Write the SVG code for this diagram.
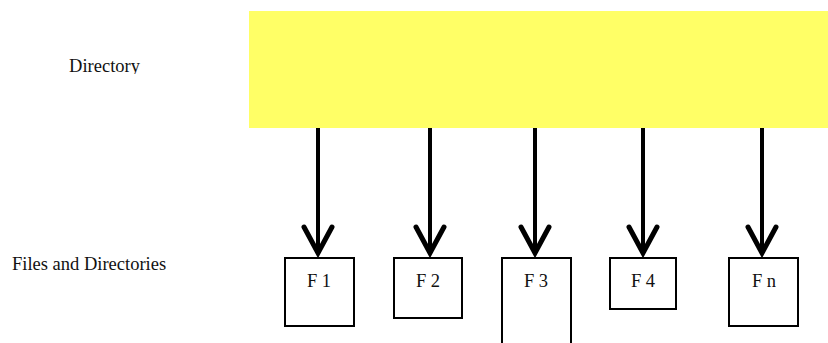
<svg xmlns="http://www.w3.org/2000/svg" width="828" height="343" viewBox="0 0 828 343">
<style>
.lbl{font-family:"Liberation Serif","Times New Roman",serif;font-size:18.5px;fill:#111;}
.box{fill:#fff;stroke:#000;stroke-width:2;}
.conn{stroke:#000;stroke-width:4;fill:none;}
</style>
<defs>
<marker id="ah" markerUnits="userSpaceOnUse" markerWidth="40" markerHeight="40" refX="0" refY="0" orient="auto" overflow="visible" viewBox="-30 -20 40 40">
<path d="M-27,-14 L-1,0 L-27,14" fill="none" stroke="#000" stroke-width="5" stroke-linejoin="miter" stroke-linecap="round"/>
</marker>
<clipPath id="dirclip"><rect x="0" y="40" width="248" height="34"/></clipPath>
</defs>
<g id="directory">
<rect x="249" y="11" width="579" height="117" fill="#ffff66"/>
</g>
<g id="label-directory"><text class="lbl" x="104.5" y="72" text-anchor="middle" clip-path="url(#dirclip)">Directory</text></g>
<g id="label-files"><text class="lbl" x="12" y="270">Files and Directories</text></g>
<g id="f1"><rect class="box" x="285" y="258" width="69" height="68"/><text class="lbl" x="319" y="287" text-anchor="middle">F 1</text></g>
<g id="f2"><rect class="box" x="394" y="258" width="68" height="60"/><text class="lbl" x="428" y="287" text-anchor="middle">F 2</text></g>
<g id="f3"><rect class="box" x="502" y="258" width="69" height="100"/><text class="lbl" x="536" y="287" text-anchor="middle">F 3</text></g>
<g id="f4"><rect class="box" x="610" y="258" width="66" height="51"/><text class="lbl" x="643" y="287" text-anchor="middle">F 4</text></g>
<g id="fn"><rect class="box" x="729" y="258" width="69" height="68"/><text class="lbl" x="764" y="287" text-anchor="middle">F n</text></g>
<g id="connectors">
<line class="conn" x1="318" y1="128" x2="318" y2="254" marker-end="url(#ah)"/>
<line class="conn" x1="430" y1="128" x2="430" y2="254" marker-end="url(#ah)"/>
<line class="conn" x1="535" y1="128" x2="535" y2="254" marker-end="url(#ah)"/>
<line class="conn" x1="643" y1="128" x2="643" y2="254" marker-end="url(#ah)"/>
<line class="conn" x1="762" y1="128" x2="762" y2="254" marker-end="url(#ah)"/>
</g>
</svg>
